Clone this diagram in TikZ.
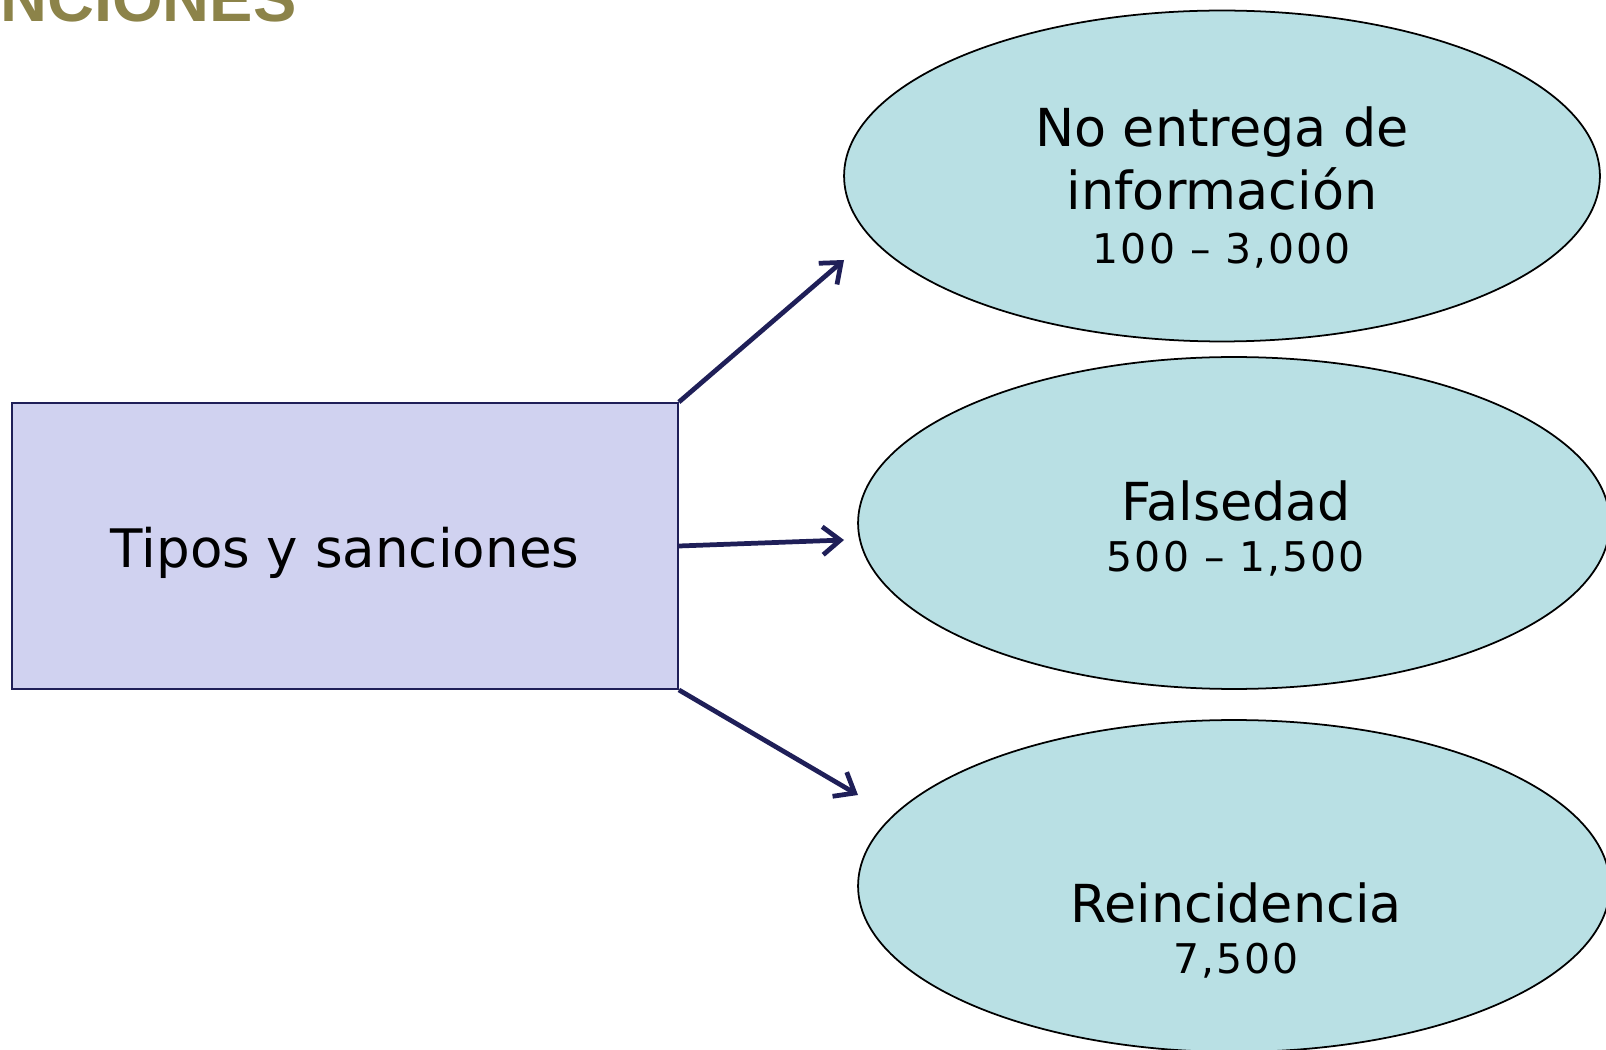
\documentclass[tikz,border=0pt]{standalone}
\usepackage{fontspec}
\setmainfont{DejaVu Sans}
\newfontfamily\titlefont{Liberation Sans}
\newfontfamily\cifrefont[LetterSpace=5]{DejaVu Sans}
\usepackage{tikz}
\usetikzlibrary{shapes.geometric, arrows.meta, positioning}
\usepackage{xcolor}
\definecolor{blunotte}{HTML}{1F1F58}
\definecolor{lilla}{HTML}{D0D2F0}
\definecolor{acqua}{HTML}{B9E0E4}
\definecolor{oliva}{HTML}{8C8349}

\begin{document}
\begin{tikzpicture}[x = 0.02cm, y = -0.02cm,
        scatola/.style = {draw = blunotte, line width = 1.1pt, fill = lilla, minimum width = 13.32cm, minimum height = 5.72cm, inner sep = 0pt},
        sanzione/.style = {ellipse, draw = black, line width = 1pt, fill = acqua, inner sep = 0pt},
        testo/.style = {anchor = base, inner sep = 0pt, font = \fontsize{29.8}{35}\selectfont},
        cifra/.style = {anchor = base, inner sep = 0pt, font = \cifrefont\fontsize{23.3}{28}\selectfont},
        freccia/.style = {line width = 2.7pt, draw = blunotte, arrows = {-Straight Barb[length=3.5mm, width=5.6mm]}}]
        % Cornice
        \useasboundingbox (0,0) rectangle (1606,1050);
        \clip (0,0) rectangle (1606,1050);
        % Titolo tagliato
        \node[anchor = base west, inner sep = 0pt, text = oliva, font = \titlefont\bfseries\fontsize{37}{40}\selectfont] (titolo) at (0,22) {NCIONES};
        % Rettangolo
        \node[scatola] (tipi) at (345,546) {};
        \node[testo, font = \fontsize{30.2}{35}\selectfont] (tipitesto) at (345,568) {Tipos y sanciones};
        % Ellissi con le sanzioni
        \node[sanzione, minimum width = 15.12cm, minimum height = 6.62cm] (entrega) at (1222,176) {};
        \node[testo] (entrega1) at (1222,147) {No entrega de};
        \node[testo] (entrega2) at (1222,210) {información};
        \node[cifra] (entrega3) at (1222,264) {100 – 3,000};
        \node[sanzione, minimum width = 15.04cm, minimum height = 6.64cm] (falsedad) at (1234,523) {};
        \node[testo] (falsedad1) at (1236,521) {Falsedad};
        \node[cifra] (falsedad2) at (1236,572) {500 – 1,500};
        \node[sanzione, minimum width = 15.04cm, minimum height = 6.64cm] (reincidencia) at (1234,886) {};
        \node[testo] (reincidencia1) at (1236,922) {Reincidencia};
        \node[cifra] (reincidencia2) at (1236,973) {7,500};
        % Punte delle frecce
        \coordinate (p1) at (844,260);
        \coordinate (p2) at (844,540);
        \coordinate (p3) at (858,795);
        % Frecce
        \draw[freccia] (tipi.north east) -- (p1);
        \draw[freccia] (tipi.east) -- (p2);
        \draw[freccia] (tipi.south east) -- (p3);
\end{tikzpicture}
\end{document}
